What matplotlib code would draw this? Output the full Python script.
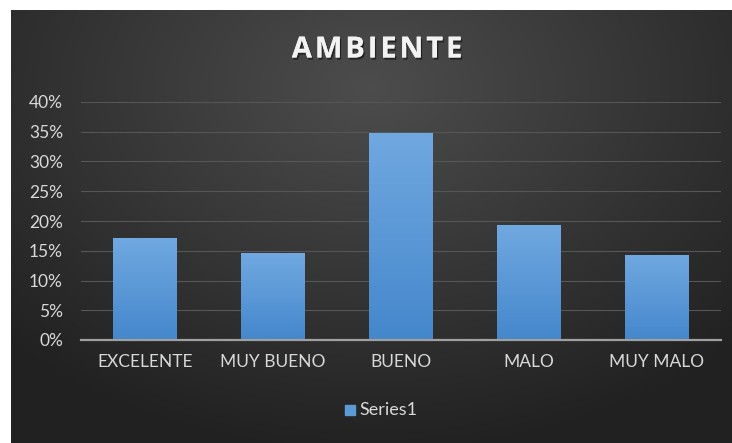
import numpy as np
import matplotlib
matplotlib.use("Agg")
import matplotlib.pyplot as plt
import matplotlib.patheffects as pe
from matplotlib.patches import Rectangle
from matplotlib.ticker import PercentFormatter

# ---- Daten ----
categorias = ["EXCELENTE", "MUY BUENO", "BUENO", "MALO", "MUY MALO"]
valores = [0.171, 0.146, 0.348, 0.193, 0.143]
serie = "Series1"
titulo = "AMBIENTE"

plt.rcParams["font.family"] = ["Lato", "DejaVu Sans"]

W, H = 732, 443
fig = plt.figure(figsize=(W / 100, H / 100), dpi=100)
fig.patch.set_facecolor("white")

# ---- dunkler Hintergrund mit radialem Verlauf ----
bg = fig.add_axes([11 / W, 0, 1 - 11 / W, (H - 10) / H], zorder=0)
yy, xx = np.mgrid[0:1:300j, 0:1:500j]
r = np.sqrt(((xx - 0.5) * 1.2) ** 2 + ((yy - 0.18) * 1.0) ** 2)
shade = np.clip(0.30 - 0.20 * r, 0.13, 0.30)
bg.imshow(np.dstack([shade, shade, shade]), aspect="auto", extent=[0, 1, 1, 0])
bg.set_axis_off()

# ---- Diagramm ----
ax = fig.add_axes([81 / W, (H - 340) / H, 640 / W, 238 / H], zorder=1)
ax.set_facecolor("none")
x = np.arange(len(categorias))
bars = ax.bar(x, valores, width=0.5, color="#5b9bd5", zorder=2)

# Verlauf in den Balken
grad = np.linspace(0, 1, 100).reshape(-1, 1)
top_c = np.array([0.44, 0.66, 0.88])
bot_c = np.array([0.27, 0.53, 0.80])
img = top_c * (1 - grad[..., None]) + bot_c * grad[..., None]
img = img.reshape(100, 1, 3)
for b in bars:
    im = ax.imshow(img, aspect="auto", zorder=3,
                   extent=[b.get_x(), b.get_x() + b.get_width(), 0, b.get_height()])
    im.set_clip_path(b)

ax.set_xlim(-0.5, len(categorias) - 0.5)
ax.set_ylim(0, 0.40)
ax.set_yticks(np.arange(0, 0.41, 0.05))
ax.yaxis.set_major_formatter(PercentFormatter(1.0, decimals=0))
ax.grid(axis="y", color="#565656", linewidth=0.8, zorder=0)
ax.set_axisbelow(True)
for s in ["top", "right", "left"]:
    ax.spines[s].set_visible(False)
ax.spines["bottom"].set_color("#a0a0a0")
ax.spines["bottom"].set_linewidth(1.6)
ax.spines["bottom"].set_zorder(4)
ax.tick_params(axis="both", length=0, colors="#d9d9d9", labelsize=12.5)
ax.tick_params(axis="y", pad=13)
ax.tick_params(axis="x", pad=10)
ax.set_xticks(x)
ax.set_xticklabels(categorias)

# ---- Titel (mit etwas Buchstabenabstand) ----
fig.text(377 / W, (H - 50) / H, "\u200a".join(titulo), ha="center", va="center", color="#f2f2f2",
         fontsize=21, fontweight="bold", family=["Open Sans", "DejaVu Sans"],
         path_effects=[pe.withSimplePatchShadow(offset=(1, -1.5), shadow_rgbFace="black", alpha=0.5),
                       pe.Normal()])

# ---- Legende ----
fig.patches.append(Rectangle((345 / W, (H - 415) / H), 10 / W, 10 / H,
                             transform=fig.transFigure, color="#5b9bd5"))
fig.text(359 / W, (H - 410) / H, serie, ha="left", va="center", color="#d9d9d9", fontsize=13)

fig.savefig("out.png", dpi=100)
